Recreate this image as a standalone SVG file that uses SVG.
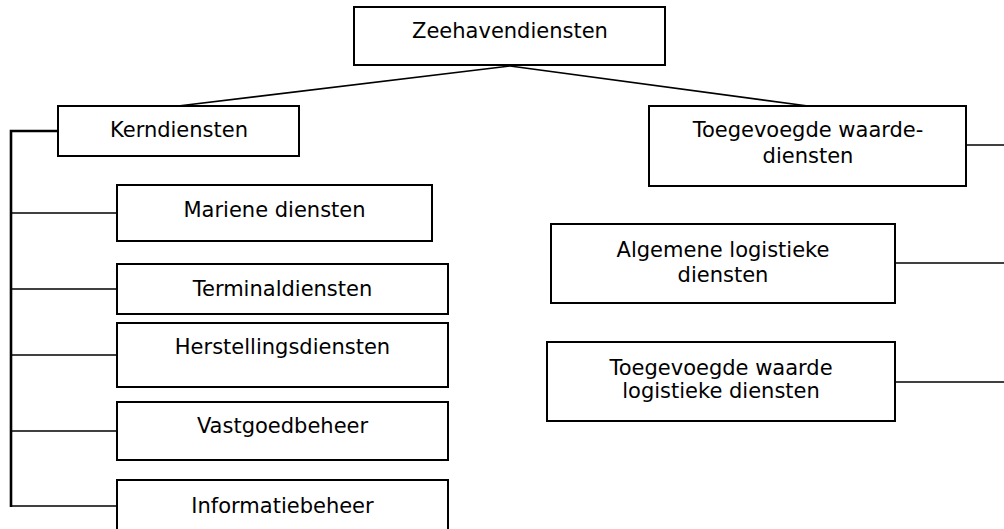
<svg xmlns="http://www.w3.org/2000/svg" width="1004" height="529" viewBox="0 0 1004 529">
<style>
.box{fill:#fff;stroke:#000;stroke-width:2}
.t{font-family:"DejaVu Sans",Verdana,sans-serif;font-size:21px;fill:#000;text-anchor:middle}
.c{stroke:#000;stroke-width:1.6;fill:none}
.trunk{stroke:#000;stroke-width:2.6;fill:none}
</style>
<rect width="1004" height="529" fill="#fff"/>
<g id="connectors">
<line class="c" x1="510" y1="66" x2="178" y2="106"/>
<line class="c" x1="510" y1="66" x2="808" y2="106"/>
<polyline class="trunk" points="58,131 11,131 11,507"/>
<line class="c" x1="11" y1="213" x2="117" y2="213"/>
<line class="c" x1="11" y1="289" x2="117" y2="289"/>
<line class="c" x1="11" y1="355" x2="117" y2="355"/>
<line class="c" x1="11" y1="431" x2="117" y2="431"/>
<line class="c" x1="10" y1="506" x2="117" y2="506"/>
<line class="c" x1="966" y1="145" x2="1004" y2="145"/>
<line class="c" x1="895" y1="263" x2="1004" y2="263"/>
<line class="c" x1="895" y1="382" x2="1004" y2="382"/>
</g>
<g id="zeehavendiensten"><rect class="box" x="354" y="7" width="311" height="58"/><text class="t" x="510" y="38">Zeehavendiensten</text></g>
<g id="kerndiensten"><rect class="box" x="58" y="106" width="241" height="50"/><text class="t" x="179" y="137">Kerndiensten</text></g>
<g id="mariene"><rect class="box" x="117" y="185" width="315" height="56"/><text class="t" x="274.5" y="217">Mariene diensten</text></g>
<g id="terminal"><rect class="box" x="117" y="264" width="331" height="50"/><text class="t" x="282.5" y="296">Terminaldiensten</text></g>
<g id="herstelling"><rect class="box" x="117" y="323" width="331" height="64"/><text class="t" x="282.5" y="354">Herstellingsdiensten</text></g>
<g id="vastgoed"><rect class="box" x="117" y="402" width="331" height="58"/><text class="t" x="282.5" y="433">Vastgoedbeheer</text></g>
<g id="informatie"><rect class="box" x="117" y="480" width="331" height="60"/><text class="t" x="282.5" y="513">Informatiebeheer</text></g>
<g id="toegevoegd"><rect class="box" x="649" y="106" width="317" height="80"/><text class="t" x="808" y="137">Toegevoegde waarde-</text><text class="t" x="808" y="163">diensten</text></g>
<g id="algemeen"><rect class="box" x="551" y="224" width="344" height="79"/><text class="t" x="723" y="257">Algemene logistieke</text><text class="t" x="723" y="282">diensten</text></g>
<g id="toegevoegd-log"><rect class="box" x="547" y="342" width="348" height="79"/><text class="t" x="721" y="375">Toegevoegde waarde</text><text class="t" x="721" y="398">logistieke diensten</text></g>
</svg>
